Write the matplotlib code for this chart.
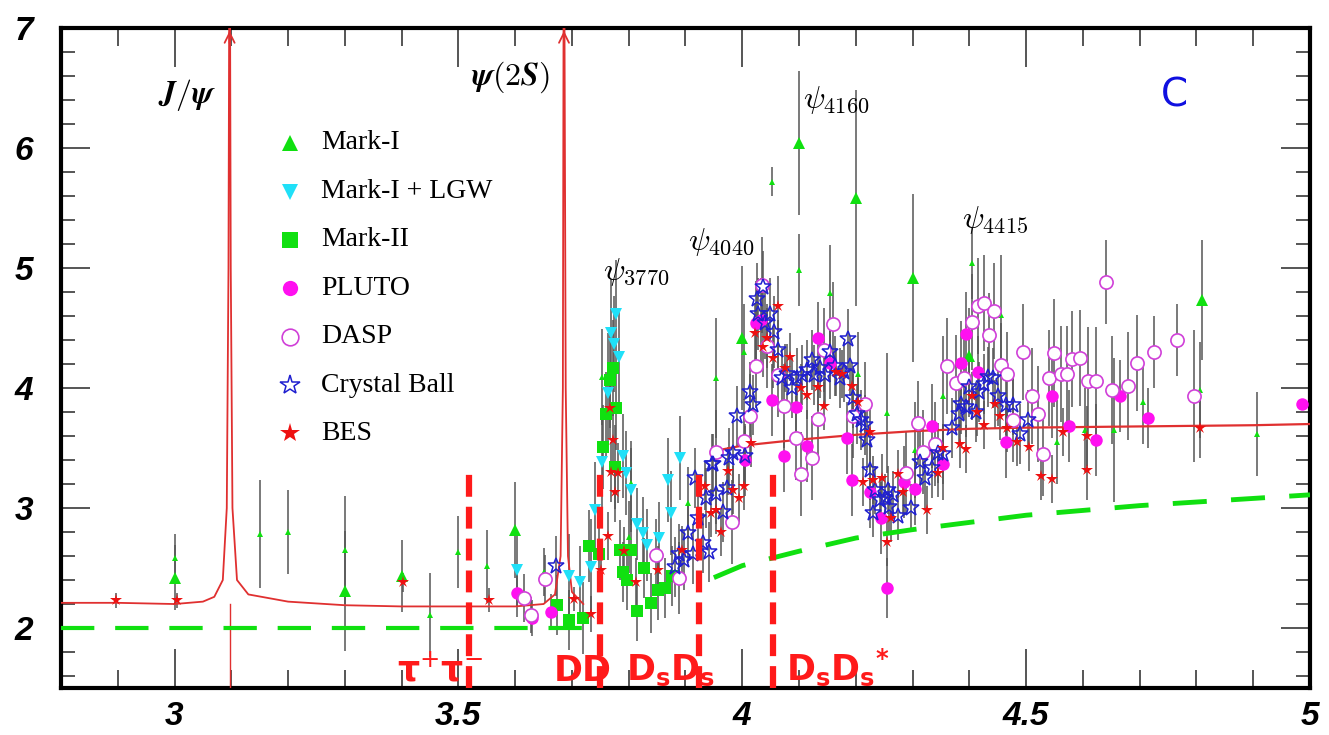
import matplotlib
matplotlib.use("Agg")
import matplotlib.pyplot as plt
import numpy as np
from matplotlib.ticker import MultipleLocator, FormatStrFormatter

# ---------------- data ----------------
# Mark-I (large triangles)
mk1_big_x = [3.00, 3.30, 3.40, 3.60, 4.00, 4.10, 4.20, 4.30, 4.40, 4.81]
mk1_big_y = [2.42, 2.31, 2.43, 2.82, 4.42, 6.04, 5.58, 4.92, 4.27, 4.73]
mk1_big_e = [0.27, 0.50, 0.30, 0.40, 0.60, 0.60, 0.90, 0.70, 0.40, 0.50]
# Mark-I (small triangles)
mk1_sm_x = [3.00, 3.15, 3.20, 3.30, 3.45, 3.50, 3.55, 3.65, 3.753, 3.804, 3.80, 3.904,
            3.953, 4.003, 4.052, 4.10, 4.155, 4.204, 4.255, 4.304, 4.354, 4.405, 4.456,
            4.554, 4.604, 4.655, 4.706, 4.806, 4.907]
mk1_sm_y = [2.58, 2.78, 2.80, 2.65, 2.11, 2.63, 2.52, 2.47, 4.09, 3.21, 2.76, 3.04,
            4.08, 4.30, 5.72, 4.98, 4.79, 4.12, 3.79, 3.48, 3.93, 5.04, 4.61,
            3.55, 3.65, 3.65, 3.88, 3.98, 3.62]
mk1_sm_e = [0.20, 0.45, 0.35, 0.45, 0.35, 0.30, 0.30, 0.20, 0.40, 0.35, 0.30, 0.30,
            0.50, 0.40, 0.12, 0.30, 0.40, 0.35, 0.50, 0.40, 0.50, 0.30, 0.50,
            0.35, 0.35, 0.60, 0.35, 0.40, 0.35]

# Mark-I + LGW
lgw_x = [3.603, 3.695, 3.714, 3.733, 3.741, 3.753, 3.764, 3.769, 3.774, 3.778, 3.783,
         3.790, 3.795, 3.804, 3.814, 3.825, 3.833, 3.853, 3.869, 3.874, 3.890]
lgw_y = [2.48, 2.43, 2.38, 2.51, 2.98, 3.38, 3.96, 4.46, 4.37, 4.62, 4.26,
         3.43, 3.29, 3.15, 2.87, 2.79, 2.69, 2.75, 3.23, 2.96, 3.42]
lgw_e = [0.30, 0.35, 0.30, 0.40, 0.40, 0.45, 0.50, 0.45, 0.40, 0.45, 0.40,
         0.35, 0.35, 0.35, 0.30, 0.30, 0.30, 0.30, 0.35, 0.35, 0.35]

# Mark-II
mk2_x = [3.674, 3.695, 3.719, 3.730, 3.748, 3.755, 3.760, 3.767, 3.772, 3.776, 3.778,
         3.785, 3.790, 3.797, 3.804, 3.814, 3.827, 3.839, 3.852, 3.864, 3.876]
mk2_y = [2.19, 2.07, 2.08, 2.68, 2.62, 3.51, 3.78, 4.07, 4.17, 3.34, 3.83,
         2.65, 2.47, 2.40, 2.65, 2.14, 2.50, 2.21, 2.32, 2.33, 2.43]
mk2_e = [0.25, 0.25, 0.30, 0.30, 0.30, 0.35, 0.35, 0.40, 0.40, 0.35, 0.35,
         0.25, 0.25, 0.25, 0.25, 0.25, 0.25, 0.25, 0.25, 0.25, 0.25]

# PLUTO
pluto_x = [3.603, 3.630, 3.663, 4.005, 4.024, 4.033, 4.052, 4.073, 4.095, 4.114, 4.133,
           4.155, 4.184, 4.193, 4.225, 4.244, 4.255, 4.285, 4.304, 4.334, 4.353, 4.385,
           4.394, 4.415, 4.465, 4.546, 4.576, 4.623, 4.665, 4.715, 4.986]
pluto_y = [2.29, 2.08, 2.13, 3.40, 4.54, 4.57, 3.90, 3.43, 3.84, 3.52, 4.42,
           4.21, 3.58, 3.23, 3.13, 2.92, 2.33, 3.22, 3.16, 3.68, 3.37, 4.21,
           4.45, 4.13, 3.55, 3.93, 3.68, 3.57, 3.93, 3.75, 3.87]
pluto_e = [0.20, 0.15, 0.15, 0.30, 0.35, 0.35, 0.30, 0.30, 0.30, 0.30, 0.30,
           0.30, 0.30, 0.30, 0.30, 0.30, 0.25, 0.30, 0.30, 0.35, 0.30, 0.35,
           0.35, 0.30, 0.30, 0.35, 0.30, 0.30, 0.30, 0.25, 0.00]

# DASP
dasp_x = [3.615, 3.628, 3.652, 3.848, 3.888, 3.953, 3.982, 4.003, 4.014, 4.024, 4.035,
          4.044, 4.063, 4.073, 4.095, 4.103, 4.123, 4.133, 4.144, 4.159, 4.195, 4.216,
          4.289, 4.310, 4.318, 4.340, 4.360, 4.376, 4.390, 4.405, 4.415, 4.426, 4.435,
          4.443, 4.456, 4.466, 4.477, 4.495, 4.510, 4.521, 4.530, 4.540, 4.549, 4.561,
          4.572, 4.580, 4.595, 4.609, 4.623, 4.641, 4.651, 4.679, 4.695, 4.725, 4.766,
          4.796]
dasp_y = [2.25, 2.11, 2.41, 2.61, 2.42, 3.47, 2.88, 3.56, 3.77, 4.18, 4.86,
          4.35, 4.11, 3.85, 3.58, 3.28, 3.42, 3.74, 4.32, 4.53, 3.77, 3.87,
          3.29, 3.71, 3.47, 3.53, 4.18, 4.04, 4.08, 4.55, 4.68, 4.71, 4.44,
          4.64, 4.19, 4.12, 3.73, 4.30, 3.93, 3.78, 3.45, 4.08, 4.29, 4.12,
          4.12, 4.24, 4.25, 4.06, 4.06, 4.88, 3.98, 4.02, 4.21, 4.30, 4.40,
          3.93]
dasp_e = [0.20, 0.15, 0.20, 0.30, 0.30, 0.35, 0.35, 0.35, 0.35, 0.35, 0.40,
          0.35, 0.35, 0.35, 0.35, 0.35, 0.35, 0.35, 0.35, 0.35, 0.35, 0.35,
          0.35, 0.35, 0.35, 0.35, 0.40, 0.40, 0.35, 0.40, 0.40, 0.40, 0.35,
          0.40, 0.35, 0.35, 0.35, 0.40, 0.40, 0.40, 0.35, 0.40, 0.45, 0.40,
          0.40, 0.40, 0.40, 0.45, 0.45, 0.35, 0.45, 0.45, 0.40, 0.30, 0.30,
          0.55]

# Crystal Ball
cb_x = [3.672, 3.881, 3.889, 3.897, 3.905, 3.913, 3.917, 3.922, 3.930, 3.936, 3.941,
        3.947, 3.948, 3.953, 3.966, 3.973, 3.977, 3.984, 3.991, 4.005, 4.014, 4.019,
        4.026, 4.028, 4.037, 4.040, 4.049, 4.056, 4.063, 4.070, 4.079, 4.087, 4.096,
        4.105, 4.114, 4.122, 4.126, 4.137, 4.146, 4.154, 4.163, 4.172, 4.180, 4.186,
        4.190, 4.195, 4.202, 4.210, 4.216, 4.220, 4.225, 4.230, 4.234, 4.243, 4.252,
        4.257, 4.259, 4.266, 4.275, 4.297, 4.313, 4.322, 4.334, 4.345, 4.354, 4.369,
        4.382, 4.386, 4.394, 4.399, 4.412, 4.417, 4.426, 4.433, 4.442, 4.451, 4.465,
        4.477, 4.489, 4.503]
cb_y = [2.52, 2.51, 2.62, 2.57, 2.79, 2.62, 3.25, 2.92, 2.71, 3.08, 2.63,
        3.37, 3.37, 3.12, 2.97, 3.17, 3.42, 3.46, 3.77, 3.43, 3.97, 3.86,
        4.74, 4.62, 4.84, 4.54, 4.62, 4.47, 4.32, 4.08, 4.12, 4.00, 4.08,
        4.11, 4.15, 4.23, 4.11, 4.17, 4.11, 4.30, 4.18, 4.08, 4.13, 4.41,
        4.18, 3.92, 3.78, 3.73, 3.69, 3.57, 3.32, 2.96, 3.15, 3.07, 3.08,
        3.15, 3.01, 3.11, 2.93, 3.00, 3.38, 3.25, 3.33, 3.46, 3.45, 3.67,
        3.78, 3.87, 3.84, 4.01, 3.80, 3.97, 4.03, 4.09, 4.08, 3.93, 3.86,
        3.86, 3.62, 3.73]
cb_e = [0.25, 0.25, 0.25, 0.25, 0.25, 0.25, 0.25, 0.25, 0.25, 0.25, 0.25,
        0.25, 0.25, 0.25, 0.25, 0.25, 0.25, 0.25, 0.25, 0.25, 0.25, 0.25,
        0.30, 0.30, 0.30, 0.30, 0.30, 0.30, 0.25, 0.25, 0.25, 0.25, 0.25,
        0.25, 0.25, 0.25, 0.25, 0.25, 0.25, 0.25, 0.25, 0.25, 0.25, 0.25,
        0.25, 0.25, 0.25, 0.25, 0.25, 0.25, 0.25, 0.20, 0.20, 0.20, 0.20,
        0.20, 0.20, 0.20, 0.20, 0.20, 0.25, 0.25, 0.25, 0.25, 0.25, 0.25,
        0.25, 0.25, 0.25, 0.25, 0.25, 0.25, 0.25, 0.25, 0.25, 0.25, 0.25,
        0.25, 0.25, 0.25]

# BES
bes_x = [2.897, 3.004, 3.402, 3.554, 3.704, 3.733, 3.751, 3.763, 3.767, 3.768, 3.772,
         3.776, 3.781, 3.792, 3.813, 3.852, 3.893, 3.934, 3.945, 3.954, 3.962, 3.975,
         3.984, 3.994, 4.003, 4.015, 4.022, 4.037, 4.044, 4.054, 4.063, 4.075, 4.084,
         4.103, 4.114, 4.133, 4.144, 4.165, 4.175, 4.193, 4.204, 4.213, 4.225, 4.230,
         4.246, 4.255, 4.262, 4.275, 4.283, 4.325, 4.345, 4.354, 4.384, 4.394, 4.405,
         4.413, 4.426, 4.445, 4.454, 4.466, 4.484, 4.505, 4.526, 4.545, 4.565, 4.607,
         4.607, 4.806]
bes_y = [2.23, 2.23, 2.38, 2.23, 2.24, 2.12, 2.48, 2.77, 3.83, 3.30, 3.57,
         3.13, 3.29, 2.64, 2.38, 2.48, 2.65, 3.18, 2.96, 2.98, 2.80, 3.31,
         3.15, 3.08, 3.18, 3.54, 4.46, 4.34, 4.42, 4.25, 4.68, 4.17, 4.26,
         4.00, 3.94, 4.01, 3.85, 4.13, 4.12, 4.02, 3.88, 3.22, 3.63, 3.23,
         3.25, 2.72, 2.92, 3.28, 3.13, 2.98, 3.29, 3.50, 3.53, 3.49, 3.93,
         3.80, 3.69, 3.87, 3.77, 3.67, 3.55, 3.51, 3.27, 3.24, 3.63, 3.32,
         3.60, 3.67]
bes_e = [0.06, 0.06, 0.08, 0.10, 0.10, 0.15, 0.15, 0.20, 0.25, 0.25, 0.25,
         0.25, 0.25, 0.20, 0.20, 0.20, 0.20, 0.20, 0.20, 0.20, 0.20, 0.20,
         0.20, 0.20, 0.20, 0.20, 0.25, 0.25, 0.25, 0.25, 0.25, 0.20, 0.20,
         0.20, 0.20, 0.20, 0.20, 0.20, 0.20, 0.20, 0.20, 0.20, 0.20, 0.20,
         0.20, 0.20, 0.20, 0.20, 0.20, 0.20, 0.20, 0.20, 0.20, 0.20, 0.20,
         0.20, 0.20, 0.20, 0.20, 0.20, 0.20, 0.20, 0.20, 0.20, 0.20, 0.25,
         0.25, 0.25]

# theory curves
jpsi_mass = 3.097
psi2s_mass = 3.686
curve1_x = [2.80, 2.90, 3.00, 3.05, 3.07, 3.085, 3.092, 3.095, 3.0962, 3.0978, 3.099,
            3.102, 3.11, 3.13, 3.20, 3.30, 3.40, 3.50, 3.60, 3.65, 3.67, 3.68, 3.684,
            3.6852, 3.6868, 3.689, 3.693, 3.70, 3.71, 3.72]
curve1_y = [2.21, 2.21, 2.20, 2.22, 2.26, 2.40, 3.00, 5.00, 7.10, 7.10, 5.00,
            3.00, 2.40, 2.28, 2.22, 2.19, 2.18, 2.18, 2.18, 2.20, 2.28, 2.60, 4.00,
            7.10, 7.10, 4.00, 2.60, 2.30, 2.25, 2.20]
curve2_x = [3.945, 4.00, 4.10, 4.20, 4.30, 4.40, 4.50, 4.70, 4.90, 5.00]
curve2_y = [3.47, 3.52, 3.57, 3.61, 3.64, 3.66, 3.67, 3.68, 3.69, 3.70]
uds_x1 = [2.80, 3.72]
uds_y1 = [2.00, 2.00]
uds_x2 = [3.95, 4.00, 4.05, 4.10, 4.20, 4.30, 4.40, 4.50, 4.60, 4.70, 4.80, 4.90, 5.00]
uds_y2 = [2.42, 2.52, 2.58, 2.64, 2.75, 2.82, 2.88, 2.94, 2.98, 3.02, 3.05, 3.08, 3.11]

# thresholds
thr_x = [3.519, 3.749, 3.924, 4.054]
thr_top = 3.28
thr_labels = [r"τ$^{+}$τ$^{-}$", "DD", r"D$_\mathbf{s}$D$_\mathbf{s}$",
              r"D$_\mathbf{s}$D$_\mathbf{s}$$^\mathbf{*}$"]
thr_label_x = [3.468, 3.719, 3.873, 4.168]

# resonance labels
res_labels = [r"$\boldsymbol{J/\psi}$", r"$\boldsymbol{\psi(2S)}$", r"$\psi_{3770}$",
              r"$\psi_{4040}$", r"$\psi_{4160}$", r"$\psi_{4415}$"]
res_x = [3.022, 3.591, 3.755, 3.904, 4.107, 4.387]
res_y = [6.44, 6.59, 4.97, 5.22, 6.40, 5.40]

# ---------------- plotting ----------------
fig = plt.figure(figsize=(13.29, 7.35), dpi=100)
ax = fig.add_axes([0.0459, 0.0639, 0.9398, 0.898])

ecol = "#555555"
for xs, ys, es in [(mk1_big_x, mk1_big_y, mk1_big_e), (mk1_sm_x, mk1_sm_y, mk1_sm_e),
                   (lgw_x, lgw_y, lgw_e), (mk2_x, mk2_y, mk2_e), (pluto_x, pluto_y, pluto_e),
                   (dasp_x, dasp_y, dasp_e), (cb_x, cb_y, cb_e), (bes_x, bes_y, bes_e)]:
    ax.errorbar(xs, ys, yerr=es, fmt="none", ecolor=ecol, elinewidth=1.1, capsize=0, zorder=2)

green = "#10e010"
cyan = "#20e0f8"
mag = "#ff10f0"
blue = "#2020d0"
red = "#ee1010"

# theory
ax.plot(curve1_x, curve1_y, color="#e03030", lw=1.3, zorder=3)
ax.plot(curve2_x, curve2_y, color="#e03030", lw=1.6, zorder=3)
ax.plot([jpsi_mass, jpsi_mass], [1.5, 2.2], color="#e03030", lw=1.0, zorder=3)
for m in [jpsi_mass, psi2s_mass]:
    ax.annotate("", xy=(m, 7.0), xytext=(m, 6.85),
                arrowprops=dict(arrowstyle="->", color="#e03030", lw=1.3,
                                mutation_scale=18), zorder=3)
ax.plot(uds_x1, uds_y1, color=green, lw=3, dashes=(8, 5), zorder=3)
ax.plot(uds_x2, uds_y2, color=green, lw=3.5, dashes=(7, 5), zorder=3)

# data markers
ax.plot(mk1_big_x, mk1_big_y, "^", color=green, ms=9, mew=0, ls="none", zorder=4)
ax.plot(mk1_sm_x, mk1_sm_y, "^", color=green, ms=5, mew=0, ls="none", zorder=4)
ax.plot(lgw_x, lgw_y, "v", color=cyan, ms=9, mew=0, ls="none", zorder=4)
ax.plot(mk2_x, mk2_y, "s", color=green, ms=9, mew=0, ls="none", zorder=4)
ax.plot(pluto_x, pluto_y, "o", color=mag, ms=9, mew=0, ls="none", zorder=4)
ax.plot(dasp_x, dasp_y, "o", mfc="white", mec="#d040d8", ms=9.5, mew=1.2, ls="none", zorder=4)
ax.plot(cb_x, cb_y, "*", mfc="none", mec=blue, ms=12, mew=1.1, ls="none", zorder=5)
ax.plot(bes_x, bes_y, "*", color=red, ms=9, mew=0, ls="none", zorder=5)

# threshold lines and labels
for tx, lab, lx in zip(thr_x, thr_labels, thr_label_x):
    ax.plot([tx, tx], [1.5, thr_top], color="#ff1a1a", lw=4.5, dashes=(3.5, 1.6),
            solid_capstyle="butt", zorder=6)
    ax.text(lx, 1.5, lab, color="#ff1a1a", fontsize=25, fontweight="bold",
            ha="center", va="bottom", family="DejaVu Sans", zorder=7)

# resonance labels
for lab, rx, ry in zip(res_labels, res_x, res_y):
    ax.text(rx, ry, lab, fontsize=23, ha="left" if "_" in lab else "center",
            va="center", math_fontfamily="cm", color="black")
ax.text(4.762, 6.44, "C", color="#1010e0", fontsize=28, ha="center", va="center",
        family="DejaVu Sans")

# legend drawn by hand
leg_names = ["Mark-I", "Mark-I + LGW", "Mark-II", "PLUTO", "DASP", "Crystal Ball", "BES"]
leg_y = [0.826, 0.752, 0.679, 0.606, 0.532, 0.459, 0.386]
leg_style = [dict(marker="^", color=green, ms=12, mew=0),
             dict(marker="v", color=cyan, ms=12, mew=0),
             dict(marker="s", color=green, ms=11, mew=0),
             dict(marker="o", color=mag, ms=11, mew=0),
             dict(marker="o", mfc="white", mec="#d040d8", ms=12, mew=1.2),
             dict(marker="*", mfc="none", mec=blue, ms=15, mew=1.1),
             dict(marker="*", color=red, ms=15, mew=0)]
for name, ly, st in zip(leg_names, leg_y, leg_style):
    ax.plot([0.183], [ly], transform=ax.transAxes, ls="none", zorder=8, **st)
    ax.text(0.208, ly, name, transform=ax.transAxes, fontsize=20, va="center",
            ha="left", family="Liberation Serif")

# axes
ax.set_xlim(2.8, 5.0)
ax.set_ylim(1.5, 7.0)
ax.xaxis.set_major_locator(MultipleLocator(0.5))
ax.xaxis.set_minor_locator(MultipleLocator(0.1))
ax.yaxis.set_major_locator(MultipleLocator(1))
ax.yaxis.set_minor_locator(MultipleLocator(0.2))
ax.xaxis.set_major_formatter(FormatStrFormatter("%g"))
ax.yaxis.set_major_formatter(FormatStrFormatter("%g"))
tcol = "#555555"
ax.tick_params(axis="x", which="major", direction="in", length=28, width=1.4,
               top=True, pad=9, color=tcol)
ax.tick_params(axis="x", which="minor", direction="in", length=13, width=1.4,
               top=True, color=tcol)
ax.tick_params(axis="y", which="major", direction="in", length=21, width=1.4,
               right=True, pad=20, color=tcol)
ax.tick_params(axis="y", which="minor", direction="in", length=10, width=1.4,
               right=True, color=tcol)
for lbl in ax.get_xticklabels() + ax.get_yticklabels():
    lbl.set_fontsize(24)
    lbl.set_fontweight("bold")
    lbl.set_fontstyle("italic")
    lbl.set_family("Liberation Sans")
for sp in ax.spines.values():
    sp.set_linewidth(3)

fig.savefig("out.png", dpi=100)
